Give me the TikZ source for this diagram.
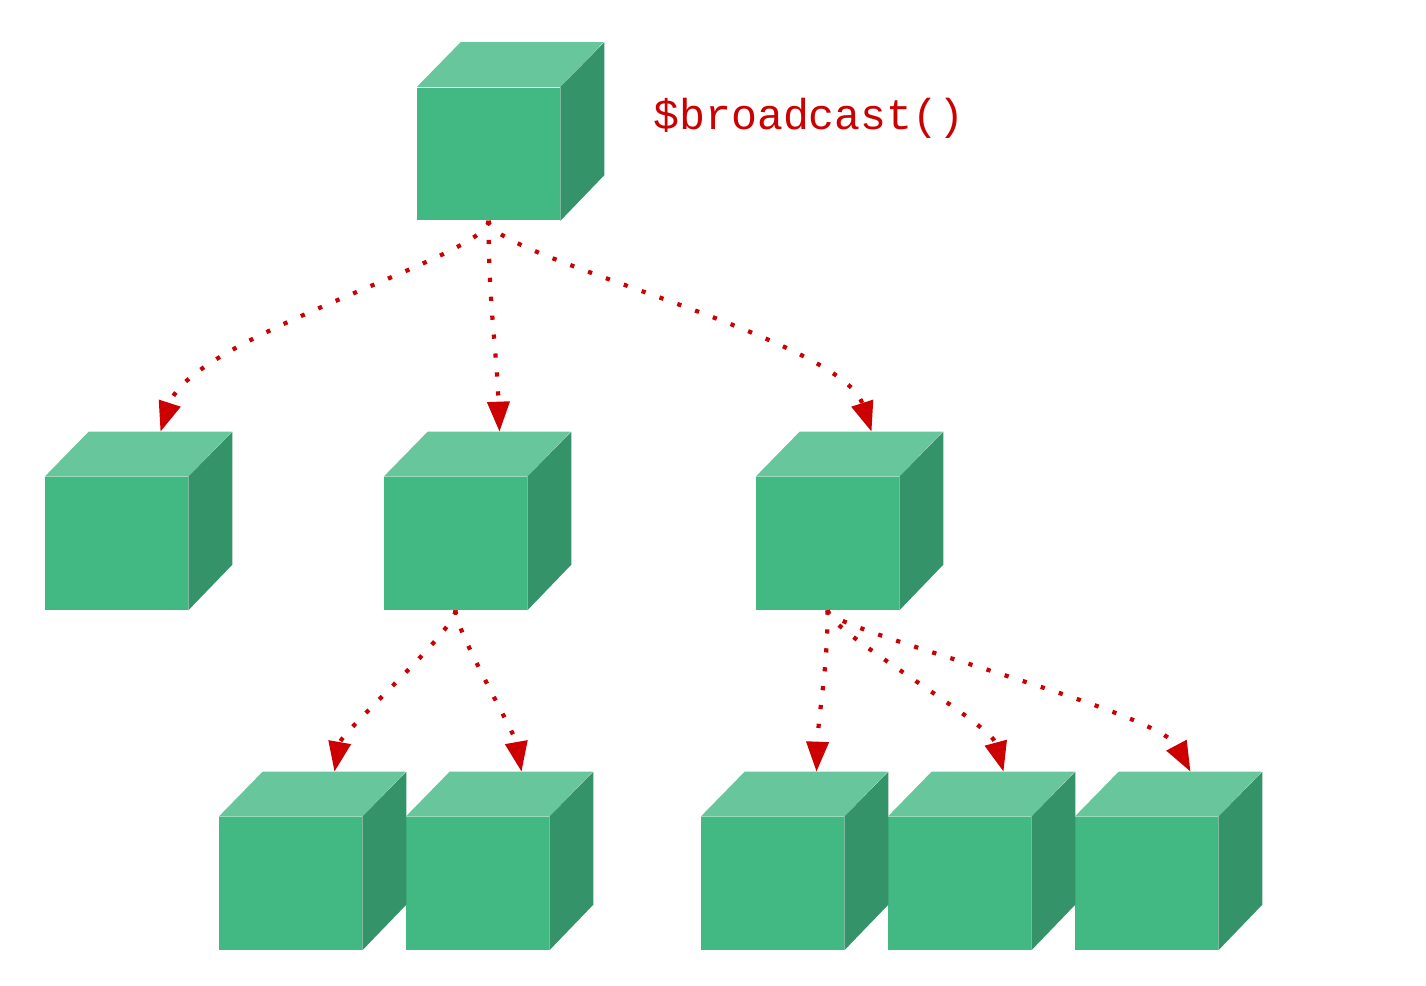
\documentclass[tikz,border=0pt]{standalone}
\usepackage{fontspec}
\usepackage{tikz}
\usetikzlibrary{arrows.meta}
\newfontfamily\codefont{Liberation Mono}
\definecolor{vuegreen}{RGB}{66,184,131}
\definecolor{vuetop}{RGB}{103,198,155}
\definecolor{vueside}{RGB}{53,147,106}
\definecolor{eventred}{RGB}{204,0,0}

\begin{document}
\begin{tikzpicture}[x=0.02cm,y=0.02cm,
    cube/.style={fill=vuegreen,inner sep=0pt,minimum width=2.86cm,minimum height=2.66cm},
    ping/.style={eventred,line width=2.4pt,dash pattern=on 2.4pt off 8.4pt,
      -{Triangle[length=0.6cm,width=0.44cm]}}]
        \useasboundingbox (0,0) rectangle (1426,-986);
        % Root component
        \node[cube] (root) at (488.5,-154) {};
        % Children
        \node[cube] (a) at (116.5,-543.5) {};
        \node[cube] (b) at (455.5,-543.5) {};
        \node[cube] (c) at (827.5,-543.5) {};
        % Grandchildren
        \node[cube] (ba) at (290.5,-883.5) {};
        \node[cube] (bb) at (477.5,-883.5) {};
        \node[cube] (ca) at (772.5,-883.5) {};
        \node[cube] (cb) at (959.5,-883.5) {};
        \node[cube] (cc) at (1146.5,-883.5) {};
        % Top and side faces
        \foreach \c in {root,a,b,c,ba,bb,ca,cb,cc} {
          \fill[vuetop] (\c.north west) -- ++(44,45) -- ++(143,0)
            -- (\c.north east) -- cycle;
          \fill[vueside] (\c.north east) -- ++(44,45) -- ++(0,-133)
            -- (\c.south east) -- cycle;
        }
        % Label
        \node[anchor=base west,inner sep=0pt,text=eventred,
          font=\codefont\fontsize{24.6}{29}\selectfont] (event) at (653,-130)
          {\$broadcast()};
        % Event arrows
        \draw[ping] (root.south) to[out=-90,in=72,out distance=0.7cm,in distance=2cm]
          ([shift={(44,45)}]a.north);
        \draw[ping] (root.south) to[out=-90,in=92] ([shift={(44,45)}]b.north);
        \draw[ping] (root.south) to[out=-90,in=108,out distance=0.7cm,in distance=2cm]
          ([shift={(44,45)}]c.north);
        \draw[ping] (b.south) to[out=-90,in=80,out distance=0.4cm,in distance=0.8cm]
          ([shift={(44,45)}]ba.north);
        \draw[ping] (b.south) to[out=-90,in=100,out distance=0.4cm,in distance=0.8cm]
          ([shift={(44,45)}]bb.north);
        \draw[ping] (c.south) to[out=-90,in=88] ([shift={(44,45)}]ca.north);
        \draw[ping] (c.south) to[out=-90,in=105,out distance=0.4cm,in distance=1cm]
          ([shift={(44,45)}]cb.north);
        \draw[ping] (c.south) to[out=-90,in=118,out distance=0.4cm,in distance=1.4cm]
          ([shift={(44,45)}]cc.north);
      \end{tikzpicture}
\end{document}
